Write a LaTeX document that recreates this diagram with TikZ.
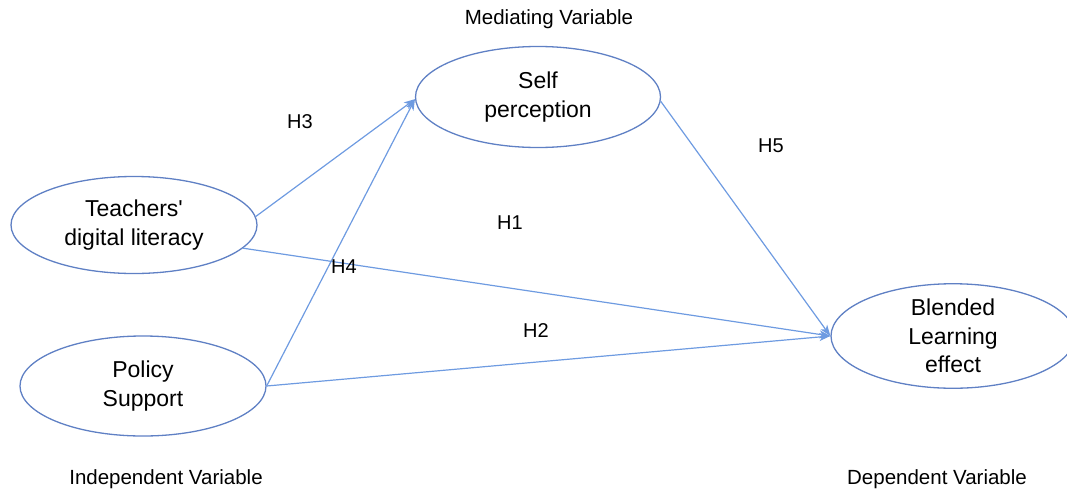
\documentclass[tikz,border=0pt]{standalone}
\usepackage{fontspec}
\setmainfont{Liberation Sans}
\usetikzlibrary{shapes.geometric,arrows.meta}
\definecolor{ellcol}{RGB}{95,128,196}
\definecolor{arrcol}{RGB}{110,155,225}
\tikzset{
  var/.style={ellipse, draw=ellcol, line width=1.3pt, inner sep=0pt, align=center,
    font=\fontsize{23}{28.5}\selectfont},
  conn/.style={draw=arrcol, line width=1.2pt, -{Stealth[length=11pt,width=8pt,inset=3pt]}},
  hlab/.style={font=\fontsize{20}{24}\selectfont},
  vlab/.style={font=\fontsize{20.5}{24}\selectfont}
}
\begin{document}
\begin{tikzpicture}[x=1pt,y=-1pt]
\useasboundingbox (0,0) rectangle (1067,490);
\node[var, minimum width=246pt, minimum height=97pt] (teach) at (134,225) {Teachers\textquotesingle\\digital literacy};
\node[var, minimum width=246pt, minimum height=100pt] (policy) at (143,386) {Policy\\Support};
\node[var, minimum width=245pt, minimum height=101pt] (self) at (538,97) {Self\\perception};
\node[var, minimum width=244pt, minimum height=102pt] (blend) at (953,336) {Blended\\Learning\\effect};

\draw[conn] (teach.4) -- (self.181);
\draw[conn] (policy.east) -- (self.181);
\draw[conn] (teach.-12) -- (blend.west);
\draw[conn] (policy.east) -- (blend.west);
\draw[conn] (self.-2) -- (blend.west);

\node[hlab] (h3) at (300,122) {H3};
\node[hlab] (h1) at (510,223) {H1};
\node[hlab] (h4) at (344,267) {H4};
\node[hlab] (h2) at (536,331) {H2};
\node[hlab] (h5) at (771,146) {H5};

\node[vlab] (med) at (549,19) {Mediating Variable};
\node[vlab] (ind) at (166,479) {Independent Variable};
\node[vlab] (dep) at (937,479) {Dependent Variable};
\end{tikzpicture}
\end{document}
